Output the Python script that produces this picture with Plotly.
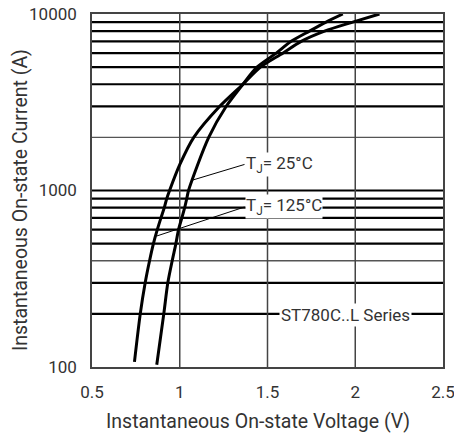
import math
import plotly.graph_objects as go

# ---- data ----
i_125 = [107, 200, 300, 400, 500, 600, 700, 800, 900, 1000, 1400, 2000, 3000,
         4000, 5000, 6000, 7000, 8000, 9000, 10000]
v_125 = [0.742, 0.775, 0.803, 0.828, 0.85, 0.872, 0.893, 0.912, 0.926, 0.942,
         1.0, 1.08, 1.228, 1.36, 1.46, 1.587, 1.692, 1.825, 1.986, 2.138]

i_25 = [103, 200, 300, 400, 500, 600, 700, 800, 900, 1000, 2000, 3000,
        4000, 5000, 6000, 7000, 8000, 9000, 10000]
v_25 = [0.869, 0.909, 0.932, 0.957, 0.978, 0.993, 1.012, 1.028, 1.04, 1.05,
        1.165, 1.265, 1.36, 1.44, 1.55, 1.635, 1.739, 1.834, 1.929]

x_ticks = [0.5, 1, 1.5, 2, 2.5]
x_tick_labels = ["0.5", "1", "1.5", "2", "2.5"]
y_ticks = [100, 1000, 10000]
y_tick_labels = ["100", "1000", "10000"]
grid_heavy = [200, 300, 500, 600, 700, 800, 900, 1000,
              3000, 4000, 5000, 6000, 7000, 8000, 9000]
grid_light = [400, 2000]
grid_v = [1, 1.5, 2]

x_title = "Instantaneous On-state Voltage (V)"
y_title = "Instantaneous On-state Current (A)"
label_25 = "T<sub>J</sub>= 25°C"
label_125 = "T<sub>J</sub>= 125°C"
series_label = "ST780C..L Series"
leader_25_v = [1.066, 1.369]
leader_25_i = [1140, 1405]
leader_125_v = [0.868, 1.369]
leader_125_i = [552, 806]

FONT = "Roboto"
TXT = "#333333"

fig = go.Figure()

for v, i in ((v_125, i_125), (v_25, i_25)):
    fig.add_trace(go.Scatter(x=v, y=i, mode="lines",
                             line=dict(color="black", width=3, shape="spline", smoothing=0.8),
                             showlegend=False, hoverinfo="skip"))
for v, i in ((leader_25_v, leader_25_i), (leader_125_v, leader_125_i)):
    fig.add_trace(go.Scatter(x=v, y=i, mode="lines",
                             line=dict(color="black", width=1),
                             showlegend=False, hoverinfo="skip"))

shapes = []
for g in grid_heavy:
    shapes.append(dict(type="line", xref="x", yref="y", x0=0.5, x1=2.5, y0=g, y1=g,
                       line=dict(color="black", width=2.2), layer="below"))
for g in grid_light:
    shapes.append(dict(type="line", xref="x", yref="y", x0=0.5, x1=2.5, y0=g, y1=g,
                       line=dict(color="#555555", width=1.3), layer="below"))
for g in grid_v:
    shapes.append(dict(type="line", xref="x", yref="y", x0=g, x1=g, y0=100, y1=10000,
                       line=dict(color="#444444", width=1.5), layer="below"))

ann_font = dict(family=FONT, size=17, color=TXT)
title_font = dict(family=FONT, size=19.5, color=TXT)
annotations = [
    dict(x=1.369, y=math.log10(1400), xref="x", yref="y", text=label_25, showarrow=False,
         xanchor="left", yanchor="middle", font=ann_font, bgcolor="white", borderpad=0),
    dict(x=1.369, y=math.log10(812), xref="x", yref="y", text=label_125, showarrow=False,
         xanchor="left", yanchor="middle", font=ann_font, bgcolor="white", borderpad=0),
    dict(x=1.943, y=math.log10(198), xref="x", yref="y", text=series_label, showarrow=False,
         xanchor="center", yanchor="middle", font=ann_font, bgcolor="white", borderpad=1),
    dict(x=0.5, y=0, xref="paper", yref="paper", text=x_title, showarrow=False,
         xanchor="center", yanchor="middle", xshift=-10, yshift=-54, font=title_font),
    dict(x=0, y=0.473, xref="paper", yref="paper", text=y_title, showarrow=False,
         textangle=-90, xanchor="center", yanchor="middle", xshift=-72, font=title_font),
]

fig.update_layout(
    width=454, height=437,
    margin=dict(l=92, r=11, t=14, b=70),
    paper_bgcolor="white", plot_bgcolor="white",
    shapes=shapes, annotations=annotations,
    font=dict(family=FONT, size=17, color=TXT),
)
fig.update_xaxes(range=[0.5, 2.5], tickvals=x_ticks, ticktext=x_tick_labels,
                 showgrid=False, zeroline=False, showline=True, linecolor="#444444",
                 linewidth=1.5, mirror=True, ticks="", ticklabelstandoff=9,
                 ticklabeloverflow="allow",
                 automargin=False, tickfont=dict(family=FONT, size=17, color=TXT))
fig.update_yaxes(type="log", range=[2, 4], tickvals=y_ticks, ticktext=y_tick_labels,
                 showgrid=False, zeroline=False, showline=True, linecolor="#444444",
                 linewidth=1.5, mirror=True, ticks="", ticklabelstandoff=10,
                 ticklabeloverflow="allow",
                 automargin=False, tickfont=dict(family=FONT, size=17, color=TXT))

fig.write_html("out.html", config={"displayModeBar": False},
               post_script="document.body.style.margin='0';")
